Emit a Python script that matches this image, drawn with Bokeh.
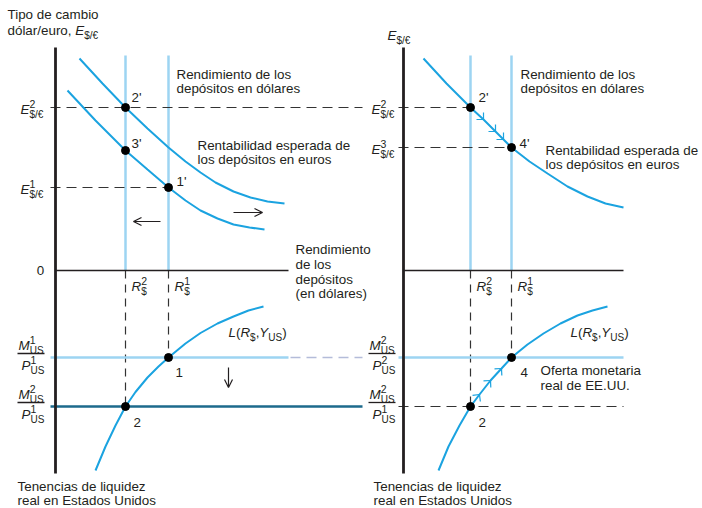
from bokeh.plotting import figure
from bokeh.models import Range1d, Arrow, OpenHead
from bokeh.core.properties import value
from bokeh.embed import file_html
from bokeh.resources import INLINE
import math

# ---------------- data (diagram units: x = dollar interest rate, y>0 exchange rate, y<0 real money) ----
R_left = [70, 113]          # R2, R1 (left panel)
R_right = [67, 108]         # R2, R1 (right panel)
E_left = [163, 83]          # E2, E1
E_right = [163, 123]        # E2, E3
MP_left = [-87, -136]       # M1/P1, M2/P1
MP_right = [-87, -136]      # M2/P2, M2/P1

# left panel: expected euro return (shifted, upper) and original (lower)
eu_up_x = [24, 47, 70, 92, 113, 130, 145, 160, 178, 195, 212, 229]
eu_up_y = [212, 187, 163, 142, 123, 109, 98, 88, 79, 73, 69, 67]
eu_lo_x = [12, 40, 70, 92, 113, 130, 145, 162, 178, 194, 209]
eu_lo_y = [180, 150, 120, 101, 83, 70, 60, 52, 46, 43, 41]
# left panel: money demand L(R, Y)
L_left_x = [40, 50, 60, 70, 80, 92, 103, 113, 130, 145, 162, 178, 193, 208]
L_left_y = [-200, -176, -155, -136, -121.5, -107, -96, -87, -73, -62.5, -53, -46, -40, -36]

# right panel: expected euro return and money demand
eu_r_x = [20, 43, 67, 80, 92, 100, 108, 126, 144, 164, 184, 202, 220]
eu_r_y = [212, 187, 163, 151, 139, 131, 123, 109, 97, 84, 74, 67, 63]
L_right_x = [35, 45, 56, 67, 76, 87, 98, 108, 124, 140, 157, 174, 189, 204]
L_right_y = [-200, -176, -155, -136, -124, -110, -98, -87, -74, -63, -53, -45, -40, -36]

# ---------------- style ----------------
FONT = value("Liberation Sans")
TXT = "#231f20"
BLUE = "#1ba3e0"
LBLUE = "#9dd4f2"
DTEAL = "#1d6a8c"
LAV = "#b4bcd9"
DASH = "#333333"
OFF = 348  # x offset of right panel
FS = 13.4

p = figure(width=702, height=508, x_range=Range1d(-55, 647), y_range=Range1d(-238, 270),
           output_backend="svg", toolbar_location=None, min_border=0,
           x_axis_location=None, y_axis_location=None)
p.grid.visible = False
p.outline_line_color = None
p.background_fill_color = "white"

W = {}
for c, w in zip("abcdefghijklmnopqrstuvwxyz",
                [556, 556, 500, 556, 556, 278, 556, 556, 222, 222, 500, 222, 833, 556, 556, 556, 556, 333, 500, 278, 556, 500, 722, 500, 500, 500]):
    W[c] = w
for c, w in zip("ABCDEFGHIJKLMNOPQRSTUVWXYZ",
                [667, 667, 722, 722, 667, 611, 778, 722, 278, 500, 667, 556, 833, 722, 778, 667, 778, 722, 667, 611, 722, 667, 944, 667, 667, 611]):
    W[c] = w
W.update({" ": 278, ",": 278, ".": 278, "/": 278, "(": 333, ")": 333, "$": 556, "€": 556, "'": 191,
          "ó": 556, "á": 556, "é": 556})


def tw(s, size):
    return sum(W.get(c, 556) for c in s) * size / 1000.0


def txt(x, y, s, size=FS, style="normal", align="left", color=TXT):
    p.text(x=[x], y=[y], text=[s], text_font=FONT, text_font_size=f"{size}px",
           text_font_style=style, text_align=align, text_baseline="middle", text_color=color)


def rich(x, y, segs):
    for seg in segs:
        if seg[0] == "t":
            s, it = seg[1], seg[2]
            txt(x, y, s, FS, "italic" if it else "normal")
            x += tw(s, FS)
        else:
            sup, sub = seg[1], seg[2]
            if sup:
                txt(x, y + 6, sup, 10.5)
            if sub:
                txt(x, y - 5, sub, 10)
            x += max(tw(sup, 10.5), tw(sub, 10))
    return x


def hline(x0, x1, y, color, width, dash="solid"):
    p.line(x=[x0, x1], y=[y, y], line_color=color, line_width=width, line_dash=dash)


def vline(x, y0, y1, color, width, dash="solid"):
    p.line(x=[x, x], y=[y0, y1], line_color=color, line_width=width, line_dash=dash)


def frac(x, level, nsup, dsup):
    rich(x + 1, level + 12, [("t", "M", True), ("ss", nsup, "US")])
    p.line(x=[x, x + 27], y=[level + 4, level + 4], line_color=TXT, line_width=1.3)
    rich(x + 4, level - 8, [("t", "P", True), ("ss", dsup, "US")])


def chevron(xs, ys, i, off=0, size=7):
    dx, dy = xs[i + 1] - xs[i], ys[i + 1] - ys[i]
    n = math.hypot(dx, dy)
    ux, uy = -dx / n, -dy / n
    x0, y0 = xs[i] + off, ys[i]
    for a in (math.pi / 4, -math.pi / 4):
        rx = ux * math.cos(a) - uy * math.sin(a)
        ry = ux * math.sin(a) + uy * math.cos(a)
        p.line(x=[x0, x0 + rx * size], y=[y0, y0 + ry * size], line_color=BLUE, line_width=1.2)


def arrow(x0, y0, x1, y1):
    p.add_layout(Arrow(x_start=x0, y_start=y0, x_end=x1, y_end=y1, line_color=TXT, line_width=1.2,
                       end=OpenHead(size=8, line_color=TXT, line_width=1.2)))


LBL = [("t", "L", True), ("t", "(", False), ("t", "R", True), ("ss", "", "$"), ("t", ",", False),
       ("t", "Y", True), ("ss", "", "US"), ("t", ")", False)]

# ================= LEFT PANEL =================
for r in R_left:
    vline(r, 0, 215, LBLUE, 2.5)
vline(R_left[0], 0, MP_left[1], DASH, 1.2, "8 6")
vline(R_left[1], 0, MP_left[0], DASH, 1.2, "8 6")
hline(-5, 307, E_left[0], DASH, 1.2, "10 6")
hline(-5, R_left[1], E_left[1], DASH, 1.2, "10 6")
hline(-5, 233, MP_left[0], LBLUE, 2.5)
hline(235, 307, MP_left[0], LAV, 1.5, "10 6")
hline(-5, 307, MP_left[1], DTEAL, 2.5)
p.line(eu_up_x, eu_up_y, line_color=BLUE, line_width=2)
p.line(eu_lo_x, eu_lo_y, line_color=BLUE, line_width=2)
p.line(L_left_x, L_left_y, line_color=BLUE, line_width=2)
vline(0, 223, -203, TXT, 2.8)
hline(0, 233, 0, TXT, 1.3)
p.scatter([eu_up_x[2], eu_lo_x[2], eu_lo_x[4], L_left_x[3], L_left_x[7]],
          [eu_up_y[2], eu_lo_y[2], eu_lo_y[4], L_left_y[3], L_left_y[7]],
          size=8, color="black")
arrow(105, 49, 78, 49)
arrow(178, 58, 207, 58)
arrow(173, -97, 173, -117)
txt(-48, 256, "Tipo de cambio")
rich(-48, 240, [("t", "dólar/euro, ", False), ("t", "E", True), ("ss", "", "$/€")])
txt(-15, 0, "0", align="center")
for lev, s in zip(E_left, ["2", "1"]):
    rich(-35, lev - 2, [("t", "E", True), ("ss", s, "$/€")])
for r, s in zip(R_left, ["2", "1"]):
    rich(r + 6, -16, [("t", "R", True), ("ss", s, "$")])
frac(-38, MP_left[0], "1", "1")
frac(-38, MP_left[1], "2", "1")
txt(121, 196, "Rendimiento de los")
txt(121, 182, "depósitos en dólares")
txt(142, 125, "Rentabilidad esperada de")
txt(142, 111, "los depósitos en euros")
for i, s in enumerate(["Rendimiento", "de los", "depósitos", "(en dólares)"]):
    txt(240, 21 - 14.8 * i, s)
txt(76, 173, "2'")
txt(76, 127, "3'")
txt(121, 89, "1'")
txt(120, -102, "1")
txt(78, -152, "2")
rich(173, -62, LBL)
txt(-38, -216, "Tenencias de liquidez")
txt(-38, -229.5, "real en Estados Unidos")

# ================= RIGHT PANEL =================
for r in R_right:
    vline(OFF + r, 0, 215, LBLUE, 2.5)
vline(OFF + R_right[0], 0, MP_right[1], DASH, 1.2, "8 6")
vline(OFF + R_right[1], 0, MP_right[0], DASH, 1.2, "8 6")
hline(OFF - 5, OFF + R_right[0], E_right[0], DASH, 1.2, "10 6")
hline(OFF - 5, OFF + R_right[1], E_right[1], DASH, 1.2, "10 6")
hline(OFF - 5, OFF + 220, MP_right[0], LBLUE, 2.5)
hline(OFF - 5, OFF + 220, MP_right[1], DASH, 1.2, "10 6")
p.line([OFF + x for x in eu_r_x], eu_r_y, line_color=BLUE, line_width=2)
p.line([OFF + x for x in L_right_x], L_right_y, line_color=BLUE, line_width=2)
for i in (3, 4, 5):
    chevron(eu_r_x, eu_r_y, i, OFF)
for i in (4, 5, 6):
    chevron(L_right_x, L_right_y, i, OFF)
vline(OFF, 223, -203, TXT, 2.8)
hline(OFF, OFF + 220, 0, TXT, 1.3)
p.scatter([OFF + eu_r_x[2], OFF + eu_r_x[6], OFF + L_right_x[3], OFF + L_right_x[7]],
          [eu_r_y[2], eu_r_y[6], L_right_y[3], L_right_y[7]], size=8, color="black")
rich(OFF - 16, 235, [("t", "E", True), ("ss", "", "$/€")])
for lev, s in zip(E_right, ["2", "3"]):
    rich(OFF - 32, lev - 2, [("t", "E", True), ("ss", s, "$/€")])
for r, s in zip(R_right, ["2", "1"]):
    rich(OFF + r + 6, -16, [("t", "R", True), ("ss", s, "$")])
frac(OFF - 35, MP_right[0], "2", "2")
frac(OFF - 35, MP_right[1], "2", "1")
txt(OFF + 117, 196, "Rendimiento de los")
txt(OFF + 117, 182, "depósitos en dólares")
txt(OFF + 142, 120, "Rentabilidad esperada de")
txt(OFF + 142, 106, "los depósitos en euros")
txt(OFF + 75, 173, "2'")
txt(OFF + 116, 127, "4'")
txt(OFF + 117, -102, "4")
txt(OFF + 75, -152, "2")
txt(OFF + 137, -100, "Oferta monetaria")
txt(OFF + 137, -115, "real de EE.UU.")
rich(OFF + 167, -62, LBL)
txt(OFF - 30, -216, "Tenencias de liquidez")
txt(OFF - 30, -229.5, "real en Estados Unidos")

open("out.html", "w").write(file_html(p, INLINE))
